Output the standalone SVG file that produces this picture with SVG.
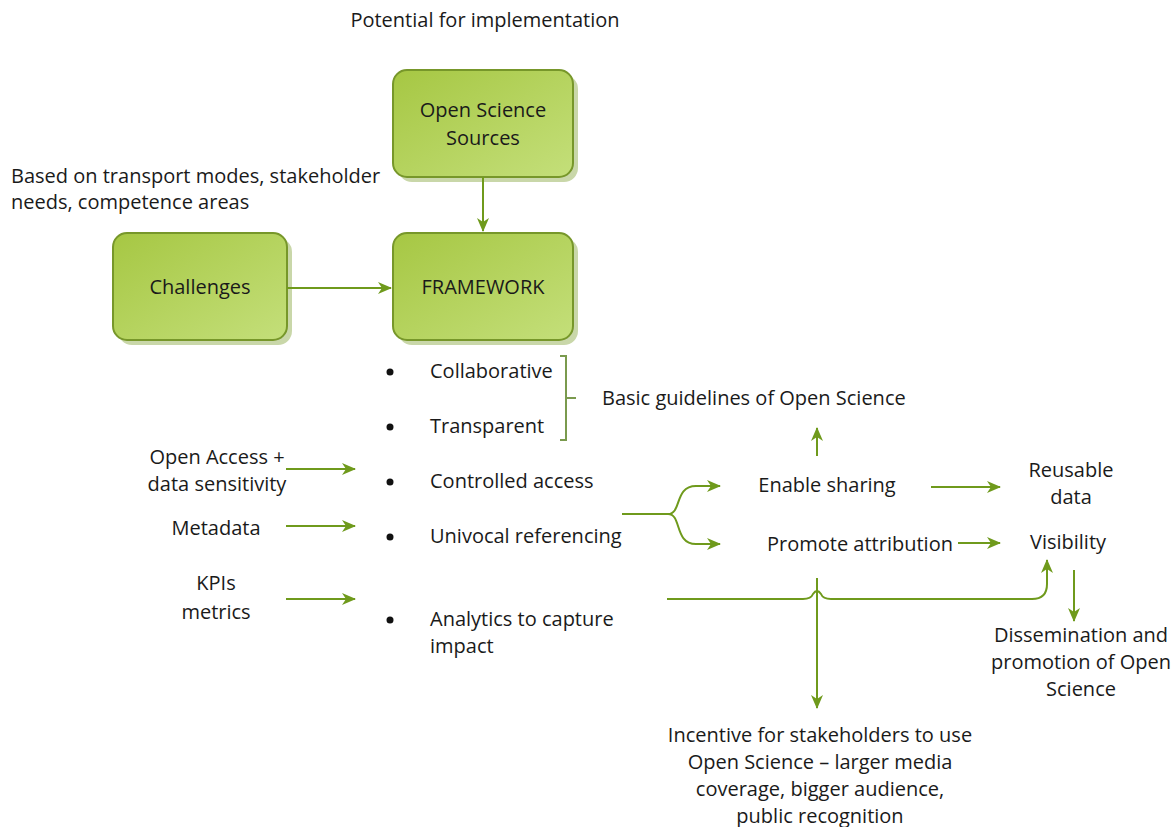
<svg xmlns="http://www.w3.org/2000/svg" width="1176" height="827" viewBox="0 0 1176 827">
<defs>
<linearGradient id="g" x1="0" y1="0" x2="1" y2="1">
<stop offset="0" stop-color="#a6c743"/>
<stop offset="1" stop-color="#c4df7a"/>
</linearGradient>
<marker id="ah" viewBox="0 0 14 12" refX="13" refY="6" markerWidth="14" markerHeight="12" markerUnits="userSpaceOnUse" orient="auto">
<path d="M0,0 L14,6 L0,12 L4,6 Z" fill="#6f9a1c"/>
</marker>
<style>
text{font-family:"Open Sans","Liberation Sans",sans-serif;font-size:20px;fill:#1a1a1a}
.c{text-anchor:middle}
.shadow{fill:#c9d7a9}
.box{fill:url(#g);stroke:#77972a;stroke-width:2}
.ln{fill:none;stroke:#6f9a1c;stroke-width:2}
.ar{fill:none;stroke:#6f9a1c;stroke-width:2;marker-end:url(#ah)}
</style>
</defs>
<rect width="1176" height="827" fill="#fff"/>

<text class="c" x="485" y="27">Potential for implementation</text>
<text x="11" y="183">Based on transport modes, stakeholder</text>
<text x="11" y="209">needs, competence areas</text>

<g id="node-sources">
<rect class="shadow" x="398" y="75" width="180" height="107" rx="14"/>
<rect class="box" x="393" y="70" width="180" height="107" rx="14"/>
<text class="c" x="483" y="117">Open Science</text>
<text class="c" x="483" y="145">Sources</text>
</g>
<g id="node-challenges">
<rect class="shadow" x="118" y="238" width="174" height="107" rx="14"/>
<rect class="box" x="113" y="233" width="174" height="107" rx="14"/>
<text class="c" x="200" y="294">Challenges</text>
</g>
<g id="node-framework">
<rect class="shadow" x="398" y="238" width="180" height="107" rx="14"/>
<rect class="box" x="393" y="233" width="180" height="107" rx="14"/>
<text class="c" x="483" y="294">FRAMEWORK</text>
</g>

<g id="bullets">
<circle cx="390" cy="372" r="3.5" fill="#111"/>
<circle cx="390" cy="427" r="3.5" fill="#111"/>
<circle cx="390" cy="482" r="3.5" fill="#111"/>
<circle cx="390" cy="537" r="3.5" fill="#111"/>
<circle cx="390" cy="620" r="3.5" fill="#111"/>
<text x="430" y="378">Collaborative</text>
<text x="430" y="433">Transparent</text>
<text x="430" y="488">Controlled access</text>
<text x="430" y="543">Univocal referencing</text>
<text x="430" y="626">Analytics to capture</text>
<text x="430" y="653">impact</text>
</g>

<g id="labels">
<text x="602" y="405">Basic guidelines of Open Science</text>
<text class="c" x="217" y="464">Open Access +</text>
<text class="c" x="217" y="491">data sensitivity</text>
<text class="c" x="216" y="535">Metadata</text>
<text class="c" x="216" y="590">KPIs</text>
<text class="c" x="216" y="619">metrics</text>
<text class="c" x="827" y="492">Enable sharing</text>
<text class="c" x="860" y="551">Promote attribution</text>
<text class="c" x="1071" y="477">Reusable</text>
<text class="c" x="1071" y="504">data</text>
<text class="c" x="1068" y="549">Visibility</text>
<text class="c" x="1081" y="642">Dissemination and</text>
<text class="c" x="1081" y="669">promotion of Open</text>
<text class="c" x="1081" y="696">Science</text>
<text class="c" x="820" y="742">Incentive for stakeholders to use</text>
<text class="c" x="820" y="769">Open Science – larger media</text>
<text class="c" x="820" y="796">coverage, bigger audience,</text>
<text class="c" x="820" y="823">public recognition</text>
</g>

<g id="connectors">
<path class="ar" d="M483,177 V231"/>
<path class="ar" d="M287,288 H391"/>
<path d="M560,356 H566 V440 H560 M566,398 H576" fill="none" stroke="#7a9a4e" stroke-width="2"/>
<path class="ar" d="M286,469 H355"/>
<path class="ar" d="M286,526 H355"/>
<path class="ar" d="M286,599 H355"/>
<path class="ar" d="M622,514 H668 C682,514 674,486 696,486 H720"/>
<path class="ar" d="M668,514 C682,514 674,544 696,544 H720"/>
<path class="ar" d="M817,456 V428"/>
<path class="ar" d="M931,487 H1000"/>
<path class="ar" d="M958,543 H1000"/>
<path class="ar" d="M817,578 V708"/>
<path class="ar" d="M667,599 H803 Q811,599 813,594 Q817,588 821,594 Q823,599 831,599 H1032 Q1047,599 1047,584 V560"/>
<path class="ar" d="M1074,570 V621"/>
</g>
</svg>
